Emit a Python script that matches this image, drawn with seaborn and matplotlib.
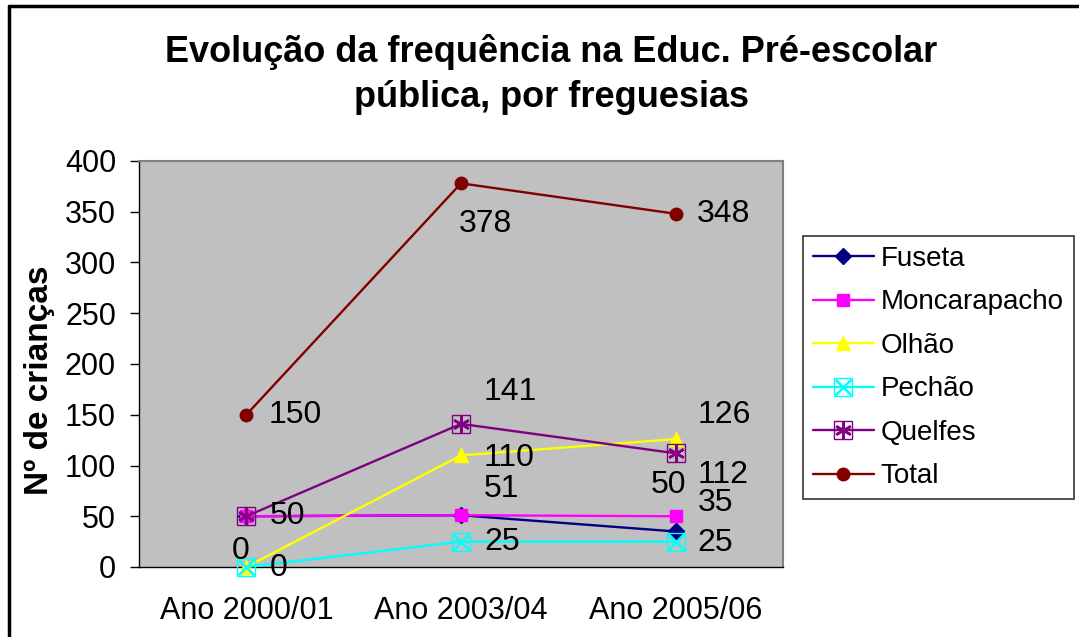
import matplotlib

matplotlib.use('Agg')

import matplotlib.pyplot as plt
import numpy as np
import pandas as pd
import seaborn as sns
from matplotlib.lines import Line2D

# data
periods = ['Ano 2000/01', 'Ano 2003/04', 'Ano 2005/06']
fuseta = [50, 51, 35]
moncarapacho = [50, 51, 50]
olhao = [0, 110, 126]
pechao = [0, 25, 25]
quelfes = [50, 141, 112]
total = [150, 378, 348]

series_names = ['Fuseta', 'Moncarapacho', 'Olhão', 'Pechão', 'Quelfes', 'Total']
series_values = [fuseta, moncarapacho, olhao, pechao, quelfes, total]

# style for each series: color, main marker, overlay marker
styles = {
    'Fuseta': dict(color='#000080', marker='D', face='#000080', size=8, over=None),
    'Moncarapacho': dict(color='#FF00FF', marker='s', face='#FF00FF', size=9, over=None),
    'Olhão': dict(color='#FFFF00', marker='^', face='#FFFF00', size=10, over=None),
    'Pechão': dict(color='#00FFFF', marker='s', face='none', size=13, over='x'),
    'Quelfes': dict(color='#800080', marker='s', face='none', size=13, over=(6, 2, 0)),
    'Total': dict(color='#800000', marker='o', face='#800000', size=9, over=None),
}

# data labels: (series, index, offset x px, offset y px, ha)
labels = [
    ('Total', 0, 22, 0, 'left'),
    ('Total', 1, -2, -41, 'left'),
    ('Total', 2, 21, 0, 'left'),
    ('Quelfes', 1, 23, 32, 'left'),
    ('Quelfes', 2, 22, -22, 'left'),
    ('Olhão', 1, 23, -3, 'left'),
    ('Olhão', 2, 22, 24, 'left'),
    ('Olhão', 0, -15, 16, 'left'),
    ('Pechão', 0, 23, -1, 'left'),
    ('Pechão', 1, 23, 0, 'left'),
    ('Pechão', 2, 22, -1, 'left'),
    ('Fuseta', 0, 23, 0, 'left'),
    ('Fuseta', 1, 23, 26, 'left'),
    ('Fuseta', 2, 22, 28, 'left'),
    ('Moncarapacho', 2, 11, 31, 'right'),
]

df = pd.DataFrame({
    'periodo': np.tile(np.arange(len(periods)), len(series_names)),
    'valor': np.concatenate(series_values),
    'freguesia': np.repeat(series_names, len(periods)),
})

sns.set_style('white')
plt.rcParams['font.family'] = ['Liberation Sans', 'DejaVu Sans']
plt.rcParams.update({'text.color': 'black', 'axes.labelcolor': 'black',
                     'xtick.color': 'black', 'ytick.color': 'black'})

fig = plt.figure(figsize=(10.79, 6.37), dpi=100)
ax = fig.add_axes([139 / 1079, 1 - 567 / 637, 644 / 1079, 406 / 637])
ax.set_facecolor('#C0C0C0')

handles = []
for name in series_names:
    st = styles[name]
    sub = df[df['freguesia'] == name]
    sns.lineplot(data=sub, x='periodo', y='valor', ax=ax, color=st['color'],
                 linewidth=1.7, marker=st['marker'], markersize=st['size'],
                 markerfacecolor=st['face'], markeredgecolor=st['color'],
                 markeredgewidth=1.0, clip_on=False, zorder=3)
    h = Line2D([], [], color=st['color'], linewidth=1.7, marker=st['marker'],
               markersize=st['size'], markerfacecolor=st['face'],
               markeredgecolor=st['color'], markeredgewidth=1.0)
    if st['over'] is not None:
        ax.plot(sub['periodo'], sub['valor'], linestyle='none', marker=st['over'],
                markersize=st['size'] - 1, color=st['color'], markeredgewidth=1.8,
                clip_on=False, zorder=4)
        h2 = Line2D([], [], linestyle='none', marker=st['over'],
                    markersize=st['size'] - 1, color=st['color'], markeredgewidth=1.8)
        h = (h, h2)
    handles.append(h)

# data labels
values = dict(zip(series_names, series_values))
for name, i, dx, dy, ha in labels:
    ax.annotate(str(values[name][i]), xy=(i, values[name][i]), xytext=(dx, dy),
                textcoords='offset pixels', ha=ha, va='center', fontsize=23,
                color='black', zorder=5)

ax.set_xlim(-0.5, 2.5)
ax.set_ylim(0, 400)
ax.set_yticks(np.arange(0, 401, 50))
ax.set_xticks(np.arange(len(periods)))
ax.set_xticklabels(periods)
ax.set_xticks(np.arange(-0.5, len(periods), 1), minor=True)
ax.tick_params(axis='x', which='major', length=0, pad=21, labelsize=22)
ax.tick_params(axis='x', which='minor', length=6.5, direction='out', width=1, color='black')
ax.tick_params(axis='y', length=6.5, direction='out', width=1, color='black',
               labelsize=22, pad=10, left=True)
ax.set_xlabel('')
ax.set_ylabel('Nº de crianças', fontsize=24, fontweight='bold')
ax.yaxis.set_label_coords(-0.130, 0.46)

for side in ['top', 'right']:
    ax.spines[side].set_color('#808080')
    ax.spines[side].set_linewidth(1.5)
for side in ['left', 'bottom']:
    ax.spines[side].set_color('black')
    ax.spines[side].set_linewidth(1)

fig.suptitle('Evolução da frequência na Educ. Pré-escolar\npública, por freguesias',
             x=0.511, y=0.947, fontsize=26, fontweight='bold', linespacing=1.37)

leg = ax.legend(handles, series_names, loc='upper left', bbox_to_anchor=(803 / 1079, 1 - 236 / 637),
                bbox_transform=fig.transFigure, fontsize=20, frameon=True, fancybox=False,
                edgecolor='black', handlelength=2.2, handletextpad=0.25, labelspacing=0.63,
                borderpad=0.35, borderaxespad=0)
leg.get_frame().set_linewidth(1.2)

# outer chart border (left and top visible)
fig.add_artist(Line2D([9 / 1079, 9 / 1079], [0, 1 - 6 / 637], transform=fig.transFigure,
                      color='black', linewidth=2.5))
fig.add_artist(Line2D([9 / 1079, 1], [1 - 6 / 637, 1 - 6 / 637], transform=fig.transFigure,
                      color='black', linewidth=2.5))

fig.savefig('out.png', dpi=100)
